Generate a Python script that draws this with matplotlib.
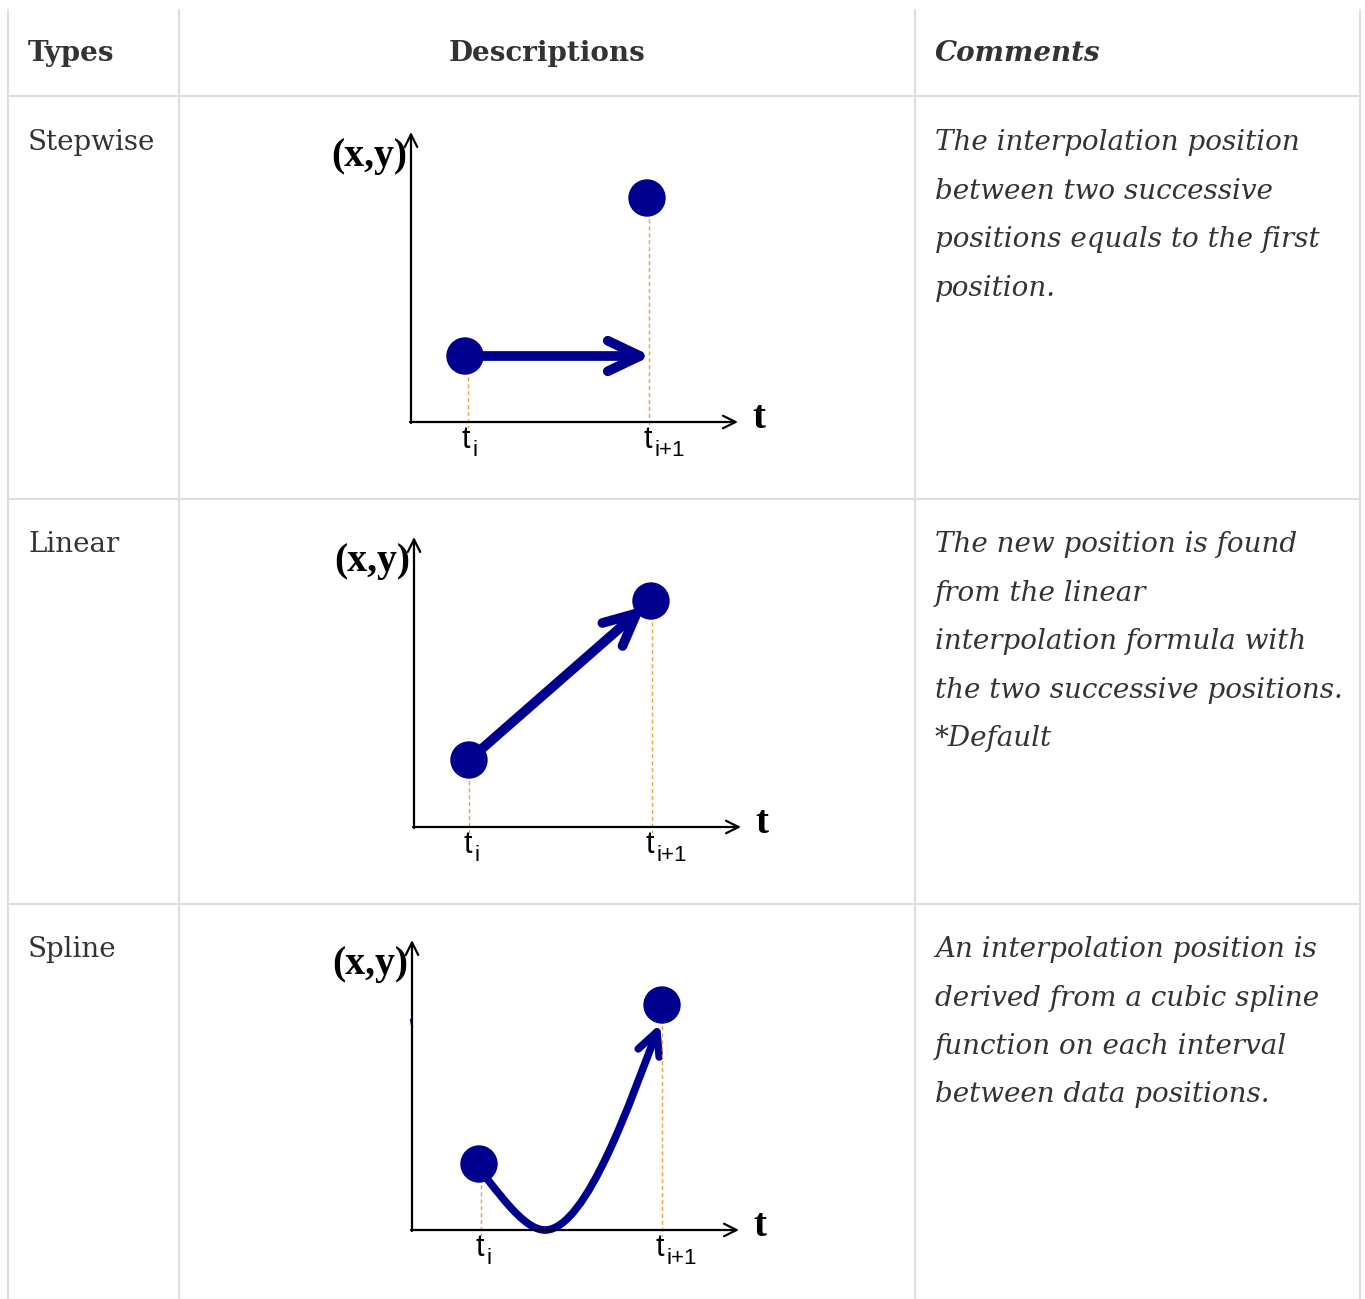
import matplotlib.pyplot as plt
from matplotlib.patches import Circle, FancyArrowPatch
from matplotlib.path import Path

# table content
headers = ["Types", "Descriptions", "Comments"]
types = ["Stepwise", "Linear", "Spline"]
comments = [
    ["The interpolation position", "between two successive",
     "positions equals to the first", "position."],
    ["The new position is found", "from the linear",
     "interpolation formula with", "the two successive positions.",
     "*Default"],
    ["An interpolation position is", "derived from a cubic spline",
     "function on each interval", "between data positions."],
]

# diagram data, in local units (origin at axis corner, y up)
p_first = [(54, 66), (55, 67), (67, 66)]
p_next = [(236, 224), (237, 226), (250, 225)]
tick_i = [57, 55, 69]
tick_next = [238, 238, 250]

navy = "#00008f"
grid = "#dddddd"
txt = "#333333"
guide = "#eea050"

fig = plt.figure(figsize=(13.65, 12.99), dpi=100)
ax = fig.add_axes([0, 0, 1, 1])
ax.set_xlim(0, 1365)
ax.set_ylim(1299, 0)
ax.axis("off")

# table grid
col_x = [8, 179, 915, 1360]
row_y = [96, 499, 904]
for x in col_x:
    ax.plot([x, x], [10, 1299], color=grid, lw=1.5)
for y in row_y:
    ax.plot([8, 1360], [y, y], color=grid, lw=1.5)

serif = "DejaVu Serif"
fs = 20
ax.text(28, 61, headers[0], fontsize=fs, fontweight="bold", family=serif, color=txt)
ax.text(547, 61, headers[1], fontsize=fs, fontweight="bold", family=serif, color=txt, ha="center")
ax.text(935, 61, headers[2], fontsize=fs, fontweight="bold", style="italic", family=serif, color=txt)

row_base = [150, 552, 957]
for k in range(3):
    ax.text(28, row_base[k], types[k], fontsize=fs, family=serif, color=txt)
    for j, line in enumerate(comments[k]):
        ax.text(935, row_base[k] + j * 48.5, line, fontsize=fs, family=serif,
                style="italic", color=txt)

origins = [(411, 422), (414, 827), (412, 1230)]


def P(o, p):
    return (o[0] + p[0], o[1] - p[1])


for k, o in enumerate(origins):
    # axes arrows
    ax.annotate("", xy=(o[0], o[1] - 290), xytext=(o[0], o[1] + 1),
                arrowprops=dict(arrowstyle="->,head_length=0.9,head_width=0.45",
                                color="black", lw=1.6, shrinkA=0, shrinkB=0))
    ax.annotate("", xy=(o[0] + 327, o[1]), xytext=(o[0] - 1, o[1]),
                arrowprops=dict(arrowstyle="->,head_length=0.9,head_width=0.45",
                                color="black", lw=1.6, shrinkA=0, shrinkB=0))
    ax.text(o[0] - 4, o[1] - 266, "(x,y)", family="Liberation Serif", fontweight="bold",
            fontsize=28.5, ha="right", va="center", color="black")
    ax.text(o[0] + 341, o[1] - 4, "t", family="Liberation Serif", fontweight="bold",
            fontsize=28, ha="left", va="center", color="black")

    # dashed guides
    a = P(o, p_first[k])
    b = P(o, p_next[k])
    ax.plot([o[0] + tick_i[k]] * 2, [a[1], o[1] + 6], ls=(0, (3, 2)), color=guide, lw=1.0)
    ax.plot([o[0] + tick_next[k]] * 2, [b[1], o[1] + 6], ls=(0, (3, 2)), color=guide, lw=1.0)

    # tick labels
    for tx, sub in [(tick_i[k], "i"), (tick_next[k], "i+1")]:
        ax.text(o[0] + tx - 6, o[1] + 26, "t", family="Liberation Sans", fontsize=22,
                ha="left", va="baseline", color="black")
        ax.text(o[0] + tx + 5, o[1] + 34, sub, family="Liberation Sans", fontsize=16,
                ha="left", va="baseline", color="black")

    # interpolation arrow
    style = "->,head_length=2.3,head_width=1.1"
    if k == 0:
        ax.annotate("", xy=(b[0] + 4, a[1]), xytext=a,
                    arrowprops=dict(arrowstyle=style, color=navy, lw=7,
                                    shrinkA=0, shrinkB=0, joinstyle="round", capstyle="round"))
    elif k == 1:
        ax.annotate("", xy=(b[0] - 6, b[1] + 5), xytext=a,
                    arrowprops=dict(arrowstyle=style, color=navy, lw=7,
                                    shrinkA=0, shrinkB=0, joinstyle="round", capstyle="round"))
    else:
        verts = [P(o, (76, 50)), P(o, (95, 26)), P(o, (115, 0)), P(o, (133, 0)),
                 P(o, (175, 0)), P(o, (220, 134)), P(o, (248, 206))]
        codes = [Path.MOVETO] + [Path.CURVE4] * 6
        curve = FancyArrowPatch(path=Path(verts, codes),
                                arrowstyle="->,head_length=0.9,head_width=0.45",
                                mutation_scale=18, color=navy, lw=5.5,
                                shrinkA=0, shrinkB=0, joinstyle="round", capstyle="round")
        ax.add_patch(curve)
        ax.plot([o[0] - 1, o[0]], [o[1] - 210, o[1] - 204], color=navy, lw=1.5)

    ax.add_patch(Circle(a, 18, color=navy, zorder=5))
    ax.add_patch(Circle(b, 18, color=navy, zorder=5))

fig.savefig("out.png", dpi=100)
